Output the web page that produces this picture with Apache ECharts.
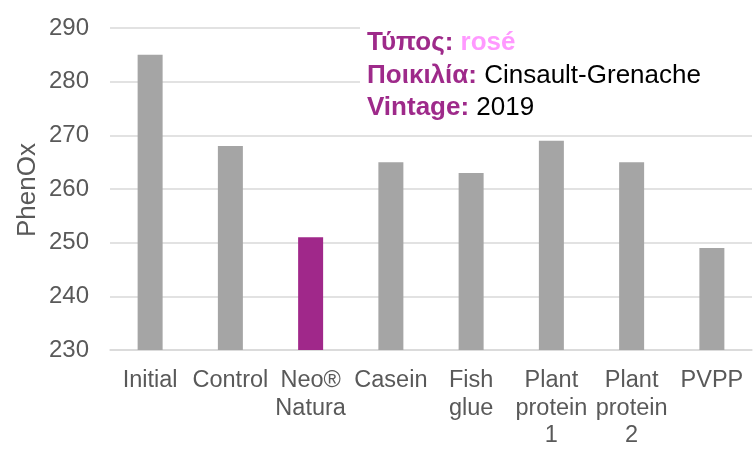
<!DOCTYPE html>
<html lang="en">
<head>
  <meta charset="UTF-8">
  <title>PhenOx</title>
  <script src="https://cdn.jsdelivr.net/npm/echarts@6/dist/echarts.min.js"></script>
  <style>
    html, body { margin: 0; padding: 0; background: #fff; }
    #chart { width: 755px; height: 450px; }
  </style>
</head>
<body>
  <div id="chart"></div>
  <script>
    var categories = ['Initial', 'Control', 'Neo®\nNatura', 'Casein', 'Fish\nglue', 'Plant\nprotein\n1', 'Plant\nprotein\n2', 'PVPP']
    var phenox = [285, 268, 251, 265, 263, 269, 265, 249]
    var highlight = 'Neo®\nNatura'
    var yTitle = 'PhenOx'

    var chart = echarts.init(document.getElementById('chart'))
    var font = '"Liberation Sans", Arial, sans-serif'

    chart.setOption({
      animation: false,
      grid: { left: 110, right: 3, top: 28, bottom: 100 },
      xAxis: {
        type: 'category',
        data: categories,
        axisLine: { lineStyle: { color: '#d9d9d9', width: 1.5 } },
        axisTick: { show: false },
        axisLabel: {
          color: '#595959', fontSize: 23.5, fontFamily: font,
          lineHeight: 27.5, margin: 17, interval: 0
        }
      },
      yAxis: {
        type: 'value',
        min: 230,
        max: 290,
        interval: 10,
        axisLine: { show: false },
        axisTick: { show: false },
        axisLabel: { color: '#595959', fontSize: 24, fontFamily: font, margin: 21 },
        splitLine: { lineStyle: { color: '#d9d9d9', width: 1.5 } }
      },
      series: [{
        type: 'bar',
        barWidth: 25,
        data: phenox.map(function (v, i) {
          return {
            value: v,
            itemStyle: { color: categories[i] === highlight ? '#a0288a' : '#a5a5a5' }
          }
        })
      }],
      graphic: [{
        // axis title, placed by hand so it sits close to the tick labels
        type: 'text',
        x: 28,
        y: 190,
        rotation: Math.PI / 2,
        style: {
          text: yTitle,
          fill: '#595959',
          fontSize: 26,
          fontFamily: font,
          align: 'center',
          verticalAlign: 'middle'
        }
      }, {
        // white text box over the grid lines, like the pasted note in the original
        type: 'rect',
        shape: { x: 360, y: 18, width: 395, height: 105 },
        style: { fill: '#fff' },
        z: 50
      }, {
        type: 'text',
        left: 367,
        top: 27,
        z: 51,
        style: {
          text: '{k|Τύπος:} {p|rosé}\n{k|Ποικιλία:} {v|Cinsault-Grenache}\n{k|Vintage:} {v|2019}',
          fontFamily: font,
          fontSize: 26,
          lineHeight: 32.5,
          rich: {
            k: { fontSize: 26, fontWeight: 'bold', fill: '#9e2a8a', fontFamily: font, lineHeight: 32.5 },
            p: { fontSize: 26, fontWeight: 'bold', fill: '#ff99ff', fontFamily: font, lineHeight: 32.5 },
            v: { fontSize: 26, fill: '#000', fontFamily: font, lineHeight: 32.5 }
          }
        }
      }]
    })
  </script>
</body>
</html>
